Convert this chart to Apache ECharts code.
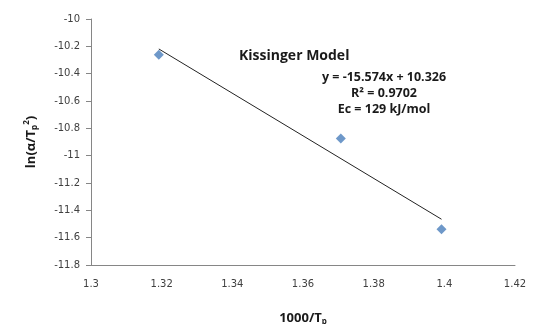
<!DOCTYPE html>
<html>
<head>
<meta charset="utf-8">
<script src="https://cdn.jsdelivr.net/npm/echarts@6/dist/echarts.min.js"></script>
<style>
  html, body { margin: 0; padding: 0; background: #fff; }
  #chart { width: 539px; height: 324px; }
</style>
</head>
<body>
<div id="chart"></div>
<script>
// measured points (1000/Tp, ln(a/Tp^2))
const xValues = [1.3192, 1.3707, 1.3992]
const yValues = [-10.262, -10.875, -11.538]
// trendline from the fit shown on the chart
const slope = -15.574
const intercept = 10.326
const fitLabels = ['y = -15.574x + 10.326', 'R² = 0.9702', 'Ec = 129 kJ/mol']

const points = xValues.map((x, i) => [x, yValues[i]])
const xMin = Math.min(...xValues)
const xMax = Math.max(...xValues)
const trend = [[xMin, slope * xMin + intercept], [xMax, slope * xMax + intercept]]

const labelFont = 'DejaVu Sans'
const chart = echarts.init(document.getElementById('chart'))
chart.setOption({
  animation: false,
  title: {
    text: 'Kissinger Model',
    left: 234,
    top: 44,
    textStyle: { fontFamily: 'Open Sans', fontWeight: 'bold', fontSize: 14, color: '#1a1a1a' }
  },
  grid: { left: 91, right: 24, top: 19, bottom: 59, outerBoundsMode: 'none', containLabel: false },
  xAxis: {
    type: 'value',
    min: 1.3,
    max: 1.42,
    interval: 0.02,
    name: '1000/T{sub|p}',
    nameLocation: 'middle',
    nameGap: 45,
    nameTextStyle: {
      fontFamily: 'Open Sans', fontWeight: 'bold', fontSize: 13, color: '#1a1a1a',
      rich: { sub: { fontFamily: 'Open Sans', fontWeight: 'bold', fontSize: 8, color: '#1a1a1a', padding: [8, 0, 0, 0] } }
    },
    axisLine: { lineStyle: { color: '#868686', width: 1 } },
    axisTick: { show: false },
    splitLine: { show: false },
    axisLabel: { fontFamily: labelFont, fontSize: 10, color: '#404040', margin: 14 }
  },
  yAxis: {
    type: 'value',
    min: -11.8,
    max: -10,
    interval: 0.2,
    name: 'ln(α/T{sub|p}{sup|2})',
    nameLocation: 'middle',
    nameRotate: 90,
    nameGap: 52,
    nameTextStyle: {
      fontFamily: 'Open Sans', fontWeight: 'bold', fontSize: 13, color: '#1a1a1a',
      rich: {
        sub: { fontFamily: 'Open Sans', fontWeight: 'bold', fontSize: 8, color: '#1a1a1a', padding: [8, 0, 0, 0] },
        sup: { fontFamily: 'Open Sans', fontWeight: 'bold', fontSize: 8, color: '#1a1a1a', padding: [0, 0, 8, 0] }
      }
    },
    axisLine: { show: true, lineStyle: { color: '#868686', width: 1 } },
    axisTick: { show: true, length: 5, lineStyle: { color: '#868686' } },
    splitLine: { show: false },
    axisLabel: {
      fontFamily: labelFont, fontSize: 10, color: '#404040', margin: 11,
      formatter: v => String(parseFloat(v.toFixed(1)))
    }
  },
  graphic: fitLabels.map((t, i) => ({
    type: 'text',
    x: 384,
    y: 77 + i * 16,
    style: {
      text: t,
      fontFamily: 'Open Sans',
      fontWeight: 'bold',
      fontSize: 12.5,
      fill: '#1a1a1a',
      align: 'center',
      verticalAlign: 'middle'
    }
  })),
  series: [{
    type: 'line',
    data: trend,
    symbol: 'none',
    lineStyle: { color: '#222', width: 1 },
    silent: true
  }, {
    type: 'scatter',
    data: points,
    symbol: 'diamond',
    symbolSize: 10,
    itemStyle: { color: '#4a7ebb' }
  }]
})
</script>
</body>
</html>
